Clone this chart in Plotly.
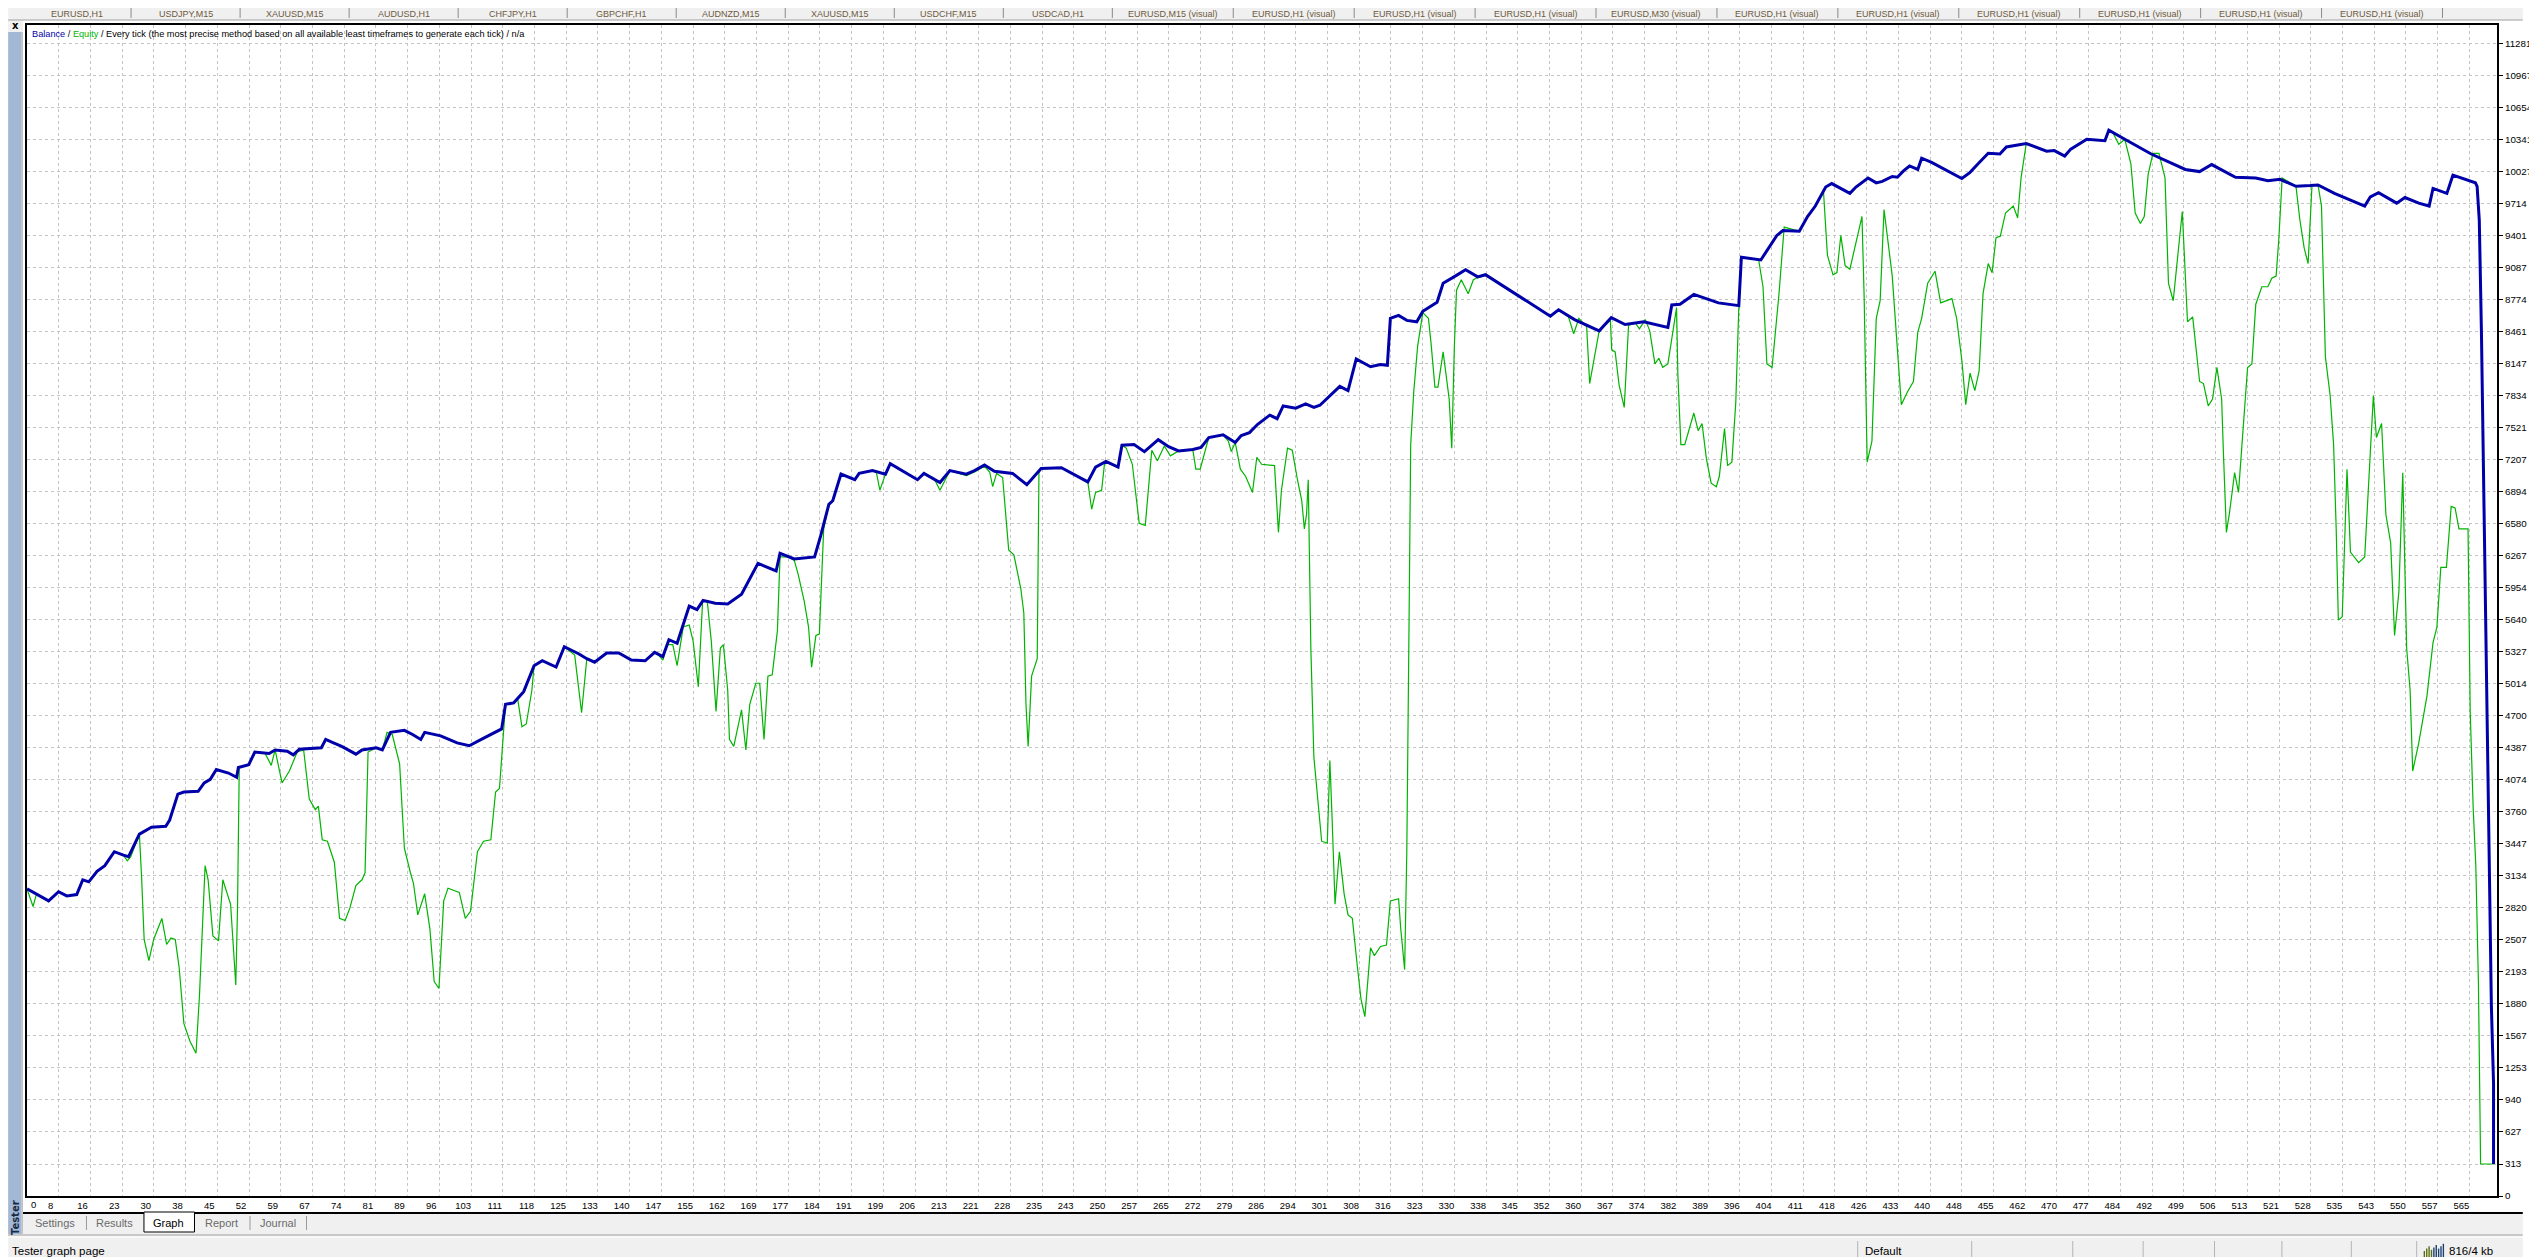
import plotly.graph_objects as go

# ---- data ----
# balance: trade index / account balance
bal_idx = [0, 2.2, 5, 7.3, 9.2, 11.5, 12.9, 14.3, 16.2, 18, 20.2, 22.3, 23.5, 26, 28.8, 32.1, 33, 34.9, 36.3,
           39.6, 41, 42.4, 43.8, 46.6, 48.5, 48.9, 51.3, 52.7, 56, 57.4, 60.2, 61.6, 63, 68.1, 69.1, 70.9,
           72.8, 76.1, 77.5, 80.8, 82.2, 84.1, 87.3, 89.2, 91.1, 92, 95.7, 99.5, 102.3, 105.1, 107.5, 109.8,
           110.7, 112.6, 114.9, 117.3, 119.2, 122.4, 124.3, 127.6, 129.5, 131.3, 134.1, 136.9, 139.8, 143,
           145.2, 147.1, 148.5, 150.4, 153.2, 155, 156.4, 159.2, 162.1, 165.3, 169.1, 173.3, 174.2, 177.5,
           182.2, 183.6, 185.5, 186.4, 188.3, 191.5, 192.5, 195.6, 198.6, 199.7, 206, 207.5, 211.2, 213.5,
           217.3, 219.2, 221.5, 223.8, 228, 231.3, 234.6, 239.3, 245.4, 247.2, 249.6, 252.4, 253.3, 256.1,
           258.5, 261.7, 264.1, 266.4, 269.7, 271.6, 273.4, 276.7, 279.5, 280.9, 282.8, 284.7, 287.5, 289.2,
           290.6, 293.5, 295.8, 297.7, 299.1, 300.9, 302.3, 303.7, 305.6, 307.5, 310.8, 313.1, 314.7, 315.4,
           317.3, 319.2, 321.5, 322.9, 326.2, 327.6, 330.4, 332.8, 335.6, 337.4, 352.4, 354.3, 358, 363.7,
           366.5, 369.7, 374, 379.6, 380.5, 382.4, 385.6, 391.3, 396, 396.6, 401.1, 404.8, 406.2, 410, 411.9,
           413.7, 416.1, 417.5, 421.7, 423.1, 425.9, 427.8, 429.2, 431.5, 432.7, 434.1, 435.5, 437.4, 438.3,
           440.6, 447.6, 449.5, 451.3, 453.7, 456.4, 457.9, 462.5, 467.2, 469, 471.4, 472.8, 476.5, 480.7,
           481.6, 485.3, 491.4, 499.3, 502.6, 505.4, 510.9, 515.6, 518.4, 521.2, 524.9, 528.2, 530, 533.8,
           540.8, 542.1, 544, 548.2, 550.1, 553.3, 555.7, 556.6, 559.8, 561.2, 566.4, 566.8, 567.3, 567.8,
           568.2, 568.7, 569.2, 569.6, 570.1, 570.6, 570.6]
bal_val = [3006, 2958, 2889, 2978, 2937, 2951, 3095, 3075, 3178, 3233, 3370, 3336, 3322, 3542, 3610, 3618, 3680,
           3934, 3954, 3961, 4043, 4078, 4174, 4140, 4098, 4194, 4222, 4346, 4332, 4366, 4353, 4318, 4373, 4387,
           4469, 4435, 4401, 4325, 4366, 4387, 4366, 4538, 4558, 4517, 4469, 4538, 4504, 4435, 4407, 4469, 4524,
           4572, 4813, 4827, 4937, 5191, 5239, 5177, 5376, 5308, 5259, 5225, 5315, 5315, 5246, 5239, 5321, 5280,
           5445, 5410, 5774, 5740, 5830, 5802, 5795, 5891, 6192, 6118, 6290, 6235, 6255, 6462, 6770, 6805, 7066,
           7011, 7073, 7100, 7066, 7169, 7011, 7073, 6984, 7100, 7066, 7100, 7155, 7094, 7073, 6963, 7121, 7128,
           6990, 7135, 7190, 7135, 7348, 7355, 7286, 7403, 7334, 7293, 7307, 7327, 7424, 7451, 7376, 7444, 7472,
           7554, 7643, 7609, 7733, 7712, 7753, 7719, 7740, 7815, 7870, 7925, 7884, 8193, 8117, 8138, 8131, 8591,
           8619, 8571, 8557, 8660, 8749, 8935, 9004, 9066, 8997, 9018, 8612, 8674, 8578, 8468, 8598, 8530, 8557,
           8502, 8722, 8729, 8825, 8742, 8715, 9189, 9162, 9402, 9450, 9443, 9587, 9690, 9876, 9910, 9814, 9876,
           9965, 9917, 9931, 9979, 9972, 10034, 10082, 10048, 10158, 10117, 9959, 10020, 10102, 10206, 10199,
           10268, 10302, 10226, 10233, 10179, 10247, 10343, 10329, 10432, 10343, 10199, 10048, 10027, 10096,
           9972, 9965, 9938, 9952, 9883, 9890, 9896, 9814, 9690, 9780, 9821, 9718, 9773, 9718, 9690, 9862, 9814,
           9992, 9917, 9883, 9553, 8454, 7286, 5843, 4813, 3439, 1859, 1103, 313]

# equity: trade index / account equity
eq_idx = [0, 1.4, 2.2, 5, 7.3, 9.2, 11.5, 12.9, 14.3, 16.2, 18, 20.2, 22.3, 23.2, 24, 26, 26.5, 27.1, 28.2, 29.3,
          31.2, 32.3, 33.3, 34.3, 35.2, 36.3, 37.7, 39.1, 39.9, 41.2, 41.9, 43, 44.3, 45.3, 47.1, 48.1, 48.3, 48.7,
          49.1, 51.3, 52.7, 55, 56.5, 57.4, 59, 60.7, 62.5, 64, 65.3, 66.7, 67.4, 68.3, 69.5, 71.1, 72.3, 73.6,
          74.7, 76.1, 77.5, 78.2, 78.9, 80.8, 82.2, 83.3, 84.5, 86.2, 87.3, 88.7, 89.4, 90.4, 92, 93.2, 94.2,
          95.3, 96.4, 97.4, 100, 101.4, 102.6, 104.2, 105.6, 107.3, 108.4, 109.3, 110.3, 110.7, 112.6, 113.5,
          114.5, 115.5, 116.8, 117.3, 119.2, 122.4, 124.3, 126.7, 128.3, 129.5, 131.3, 134.1, 136.9, 139.8,
          143, 145.2, 146.1, 147.1, 148, 149.4, 150.4, 151.8, 153.2, 154.1, 155.3, 156.3, 157.4, 158.3, 159.4,
          160.4, 161.1, 162.1, 162.5, 163.5, 165.3, 166.3, 167.2, 168.6, 169.5, 170.5, 171.4, 172.4, 173.6,
          174.2, 176.1, 177.5, 178.4, 179.8, 180.8, 181.5, 182.5, 183.3, 184.3, 185.5, 186.4, 188.3, 191.5,
          192.5, 195.6, 196.5, 197.3, 198.6, 199.7, 206, 207.5, 209.8, 211.2, 213.5, 217.3, 219.2, 221.5,
          222.7, 223.4, 224.3, 225.7, 227.1, 228.3, 229.9, 230.6, 231.1, 231.6, 232.4, 233.7, 234.1, 234.6,
          239.3, 245.4, 246.3, 247.2, 248.6, 249.3, 251, 252.4, 253.3, 254.3, 255.7, 257.3, 258.7, 260.2,
          261.5, 263.1, 264.5, 266.4, 269.7, 270.4, 271.4, 272.8, 273.4, 276.7, 277.9, 278.6, 279.5, 280.7,
          281.9, 283.5, 284.5, 285.6, 287.9, 288.6, 289.5, 290.2, 291.6, 292.7, 293.9, 294.9, 295.5, 296,
          296.4, 297, 297.7, 298.6, 299.5, 300.8, 301.4, 301.9, 302.6, 303.6, 304.7, 305.6, 306.6, 307.7,
          308.6, 309.5, 310.8, 311.7, 313.1, 314.5, 315.4, 317.3, 317.8, 318.7, 319.2, 319.7, 320.1, 320.8,
          321.7, 322.9, 324.2, 324.8, 325.7, 326.4, 327.6, 329, 329.6, 330.2, 330.7, 331.8, 333.4, 334.6,
          335.6, 337.4, 352.4, 354.3, 356.6, 357.8, 359, 360.8, 361.5, 363.7, 366.3, 366.6, 367.4, 368.3,
          369.5, 370.5, 372.1, 373, 374.4, 375.4, 376.6, 377.5, 378.4, 379.6, 381.6, 381.9, 382.6, 383.5,
          385.6, 386.6, 387.5, 388.5, 389.6, 390.8, 391.5, 392.7, 393.4, 394.4, 395.3, 396, 396.6, 400.6,
          401.6, 402.5, 403.7, 405.3, 406.5, 410, 411.9, 413.7, 415.6, 416.5, 417.8, 418.7, 419.6, 420.6,
          421.7, 424.5, 425, 425.7, 426.8, 427.8, 428.7, 429.6, 431.5, 432.7, 433.6, 435, 436.4, 437.4, 438.3,
          439.7, 441.4, 442.7, 445.3, 446.4, 447.6, 448.5, 449.5, 450.6, 451.6, 452.5, 453.7, 454.6, 455.5,
          456.5, 457.7, 459.5, 460.5, 461.3, 462.3, 462.5, 467.2, 469, 471.4, 472.8, 476.5, 480.7, 481.6,
          482.5, 483.9, 485.3, 486.7, 487.7, 488.9, 489.8, 490.7, 491.8, 493.2, 494.6, 495.4, 496.5, 497.4,
          498.6, 499.8, 501, 502.6, 503.5, 504.6, 505.6, 506.6, 507.7, 508.1, 508.8, 509.5, 510.7, 511.6,
          512.3, 513.7, 514.7, 515.6, 517, 518.4, 519.3, 520.3, 520.9, 521.7, 524.9, 525.8, 526.8, 527.7,
          528.6, 530, 530.8, 531.4, 531.7, 532.8, 533.6, 534.2, 534.7, 535.6, 536.1, 536.7, 537.5, 539.4,
          540.8, 542, 542.8, 543.5, 544.7, 545.7, 546.8, 547.7, 548.7, 549.6, 550.5, 551.3, 551.9, 553.3,
          555.2, 556.6, 557.5, 558.4, 559.7, 560.8, 561.7, 562.6, 564.7, 565.2, 565.9, 566.5, 567.1, 567.5,
          567.6, 570.6]
eq_val = [3006, 2834, 2958, 2889, 2978, 2937, 2951, 3095, 3075, 3178, 3233, 3370, 3336, 3281, 3322, 3542, 3130,
          2511, 2305, 2511, 2717, 2462, 2525, 2511, 2236, 1687, 1515, 1398, 1962, 3233, 3095, 2546, 2497, 3095,
          2855, 2099, 2065, 2820, 4194, 4222, 4346, 4340, 4215, 4366, 4043, 4160, 4346, 4366, 3885, 3782, 3816,
          3487, 3473, 3267, 2717, 2697, 2820, 3040, 3095, 3164, 4346, 4387, 4366, 4538, 4517, 4229, 3404, 3164,
          3061, 2752, 2958, 2614, 2099, 2031, 2889, 3013, 2971, 2717, 2786, 3370, 3473, 3487, 3954, 3988, 4593,
          4813, 4827, 4869, 4593, 4620, 4950, 5191, 5239, 5177, 5376, 5294, 4730, 5259, 5225, 5315, 5315, 5246,
          5239, 5321, 5294, 5246, 5397, 5397, 5191, 5569, 5589, 5431, 4984, 5830, 5809, 5431, 4744, 5363, 5397,
          4950, 4469, 4401, 4758, 4366, 4813, 5019, 5019, 4469, 5088, 5102, 5534, 6256, 6256, 6221, 6084, 5823,
          5569, 5177, 5486, 5500, 6530, 6771, 6805, 7066, 7011, 7073, 7100, 7080, 6908, 7066, 7169, 7011, 7073,
          7025, 6908, 7100, 7052, 7087, 7142, 7087, 6943, 7073, 7032, 6324, 6276, 5946, 5706, 4813, 4401, 5088,
          5259, 7080, 7121, 7128, 6990, 6722, 6887, 6908, 7183, 7162, 7135, 7348, 7320, 7162, 6585, 6564, 7300,
          7197, 7341, 7245, 7293, 7300, 7114, 7114, 7334, 7424, 7451, 7389, 7286, 7376, 7114, 7045, 6887, 7231,
          7162, 7149, 7149, 6496, 6908, 7320, 7300, 7011, 6805, 6530, 6668, 7011, 5362, 4298, 3851, 3473, 3453,
          4263, 3714, 2855, 3370, 2958, 2752, 2718, 2271, 1927, 1756, 2429, 2353, 2443, 2456, 2889, 2910, 2614,
          2216, 3370, 5534, 7355, 7870, 8317, 8646, 8591, 8351, 7918, 7918, 8262, 7801, 7320, 8317, 8866, 8969,
          8832, 8969, 8990, 9011, 8612, 8674, 8605, 8440, 8591, 8509, 7952, 8468, 8571, 8282, 8262, 7939, 7719,
          8523, 8543, 8488, 8578, 8468, 8145, 8200, 8111, 8145, 8694, 8042, 7355, 7355, 7664, 7492, 7561, 7217,
          6977, 6943, 7045, 7513, 7149, 7183, 7767, 8694, 9189, 9162, 8900, 8145, 8111, 8832, 9484, 9443, 9587,
          9690, 9828, 9210, 9017, 9038, 9402, 9107, 9072, 9588, 8797, 7183, 7389, 8591, 8763, 9656, 9004, 8282,
          7746, 7870, 7973, 8454, 8591, 8935, 9052, 8742, 8784, 8591, 8179, 7746, 8055, 7883, 8076, 8832, 9127,
          9038, 9381, 9395, 9622, 9690, 9574, 9965, 10240, 10302, 10226, 10233, 10179, 10247, 10343, 10329,
          10432, 10412, 10295, 10343, 10102, 9622, 9519, 9588, 10000, 10206, 10206, 9965, 8935, 8763, 9141,
          9636, 8557, 8605, 7973, 7952, 7733, 7801, 8110, 7801, 7286, 6496, 6681, 7080, 6887, 7286, 8110, 8145,
          8729, 8900, 8900, 8983, 9004, 9347, 9965, 9883, 9553, 9278, 9127, 9896, 9896, 9690, 8797, 8214, 7835,
          7355, 6530, 5637, 5671, 6324, 7114, 6303, 6200, 6256, 7286, 7835, 7424, 7561, 6668, 6393, 5486, 5912,
          7080, 5362, 4950, 4160, 4435, 4895, 5417, 5569, 6153, 6153, 6750, 6736, 6530, 6530, 4744, 3782, 3233,
          2099, 691, 313, 313]

x_labels = ["0", "8", "16", "23", "30", "38", "45", "52", "59", "67", "74", "81", "89", "96", "103", "111",
            "118", "125", "133", "140", "147", "155", "162", "169", "177", "184", "191", "199", "206", "213",
            "221", "228", "235", "243", "250", "257", "265", "272", "279", "286", "294", "301", "308", "316",
            "323", "330", "338", "345", "352", "360", "367", "374", "382", "389", "396", "404", "411", "418",
            "426", "433", "440", "448", "455", "462", "470", "477", "484", "492", "499", "506", "513", "521",
            "528", "535", "543", "550", "557", "565"]
y_ticks = [0, 313, 627, 940, 1253, 1567, 1880, 2193, 2507, 2820, 3134, 3447, 3760, 4074, 4387, 4700, 5014,
           5327, 5640, 5954, 6267, 6580, 6894, 7207, 7521, 7834, 8147, 8461, 8774, 9087, 9401, 9714, 10027,
           10341, 10654, 10967, 11281]

top_tabs = ["EURUSD,H1", "USDJPY,M15", "XAUUSD,M15", "AUDUSD,H1", "CHFJPY,H1", "GBPCHF,H1", "AUDNZD,M15",
            "XAUUSD,M15", "USDCHF,M15", "USDCAD,H1", "EURUSD,M15 (visual)", "EURUSD,H1 (visual)",
            "EURUSD,H1 (visual)", "EURUSD,H1 (visual)", "EURUSD,M30 (visual)", "EURUSD,H1 (visual)",
            "EURUSD,H1 (visual)", "EURUSD,H1 (visual)", "EURUSD,H1 (visual)", "EURUSD,H1 (visual)",
            "EURUSD,H1 (visual)"]
bottom_tabs = ["Settings", "Results", "Graph", "Report", "Journal"]

# ---- page geometry (pixels) ----
W, H = 2537, 1257
L, R, T, B = 19, 2511, 17, 1188
SANS = "Liberation Sans, Arial, sans-serif"


def px(x):
    return (x - L) / (R - L)


def py(y):
    return (B - y) / (B - T)


fig = go.Figure()

fig.add_trace(go.Scatter(x=eq_idx, y=eq_val, mode="lines", name="Equity",
                         line=dict(color="#00b400", width=1.2)))
fig.add_trace(go.Scatter(x=bal_idx, y=bal_val, mode="lines", name="Balance",
                         line=dict(color="#0000aa", width=3)))

n_lab = len(x_labels)
x_tickvals = [k * 565 / (n_lab - 1) for k in range(n_lab)]
# the first label sits right of the frame, it is drawn as an annotation below
x_ticktext = [""] + x_labels[1:]

fig.update_xaxes(
    range=[0, 571.4], tickvals=x_tickvals, ticktext=x_ticktext,
    showgrid=True, gridcolor="#c4c4c4", griddash="3px,3px", gridwidth=1,
    showline=True, linecolor="black", linewidth=2, mirror=True, zeroline=False,
    ticks="", tickfont=dict(family=SANS, size=9.5, color="black"), ticklabelshift=-8,
)
fig.update_yaxes(
    range=[0, 11462], tickvals=y_ticks, ticktext=[str(v) for v in y_ticks], side="right",
    showgrid=True, gridcolor="#c4c4c4", griddash="3px,3px", gridwidth=1,
    showline=True, linecolor="black", linewidth=2, mirror=True, zeroline=False,
    ticks="outside", ticklen=4, tickcolor="black",
    tickfont=dict(family=SANS, size=9.8, color="black"),
)

shapes = []
# window chrome
shapes.append(dict(type="rect", xref="paper", yref="paper", x0=px(0), x1=px(W), y0=py(0), y1=py(12),
                   fillcolor="#f0f0f0", line_width=0, layer="below"))
shapes.append(dict(type="line", xref="paper", yref="paper", x0=px(0), x1=px(W), y0=py(12), y1=py(12),
                   line=dict(color="#a0a0a0", width=1)))
shapes.append(dict(type="rect", xref="paper", yref="paper", x0=px(0), x1=px(15), y0=py(12), y1=py(1228),
                   fillcolor="#f0f0f0", line_width=0, layer="below"))
shapes.append(dict(type="rect", xref="paper", yref="paper", x0=px(0), x1=px(13), y0=py(24), y1=py(1226),
                   fillcolor="#a2b8d6", line_width=0))
shapes.append(dict(type="line", xref="paper", yref="paper", x0=px(14), x1=px(14), y0=py(24), y1=py(1226),
                   line=dict(color="#9a9a9a", width=1)))
shapes.append(dict(type="rect", xref="paper", yref="paper", x0=px(15), x1=px(W), y0=py(1205), y1=py(1227),
                   fillcolor="#f0f0f0", line_width=0))
shapes.append(dict(type="line", xref="paper", yref="paper", x0=px(15), x1=px(W), y0=py(1205), y1=py(1205),
                   line=dict(color="black", width=2)))
# selected "Graph" tab
shapes.append(dict(type="rect", xref="paper", yref="paper", x0=px(137), x1=px(188), y0=py(1204), y1=py(1224),
                   fillcolor="white", line=dict(color="black", width=1)))
# status bar
shapes.append(dict(type="rect", xref="paper", yref="paper", x0=px(0), x1=px(W), y0=py(1227), y1=py(1254),
                   fillcolor="#f0f0f0", line_width=0))
shapes.append(dict(type="line", xref="paper", yref="paper", x0=px(0), x1=px(W), y0=py(1227), y1=py(1227),
                   line=dict(color="#a0a0a0", width=1)))
shapes.append(dict(type="line", xref="paper", yref="paper", x0=px(0), x1=px(W), y0=py(1229), y1=py(1229),
                   line=dict(color="white", width=1)))
shapes.append(dict(type="rect", xref="paper", yref="paper", x0=px(0), x1=px(W), y0=py(1254), y1=py(H),
                   fillcolor="#1b2633", line_width=0))
for sx in [1866, 1981, 2083, 2154, 2226, 2294, 2364, 2430]:
    shapes.append(dict(type="line", xref="paper", yref="paper", x0=px(sx), x1=px(sx), y0=py(1233), y1=py(1252),
                       line=dict(color="#b4b4b4", width=1)))
# traffic indicator bars
for i in range(9):
    bx = 2437 + i * 2.4
    shapes.append(dict(type="rect", xref="paper", yref="paper", x0=px(bx), x1=px(bx + 1.4),
                       y0=py(1249), y1=py(1249 - (6 + (i % 3) * 2 + i * 0.4)),
                       fillcolor="#5a6e10" if i < 4 else "#1b3f6e", line_width=0))
# tab separators at the bottom
for sx in [79, 244, 301]:
    shapes.append(dict(type="line", xref="paper", yref="paper", x0=px(sx), x1=px(sx), y0=py(1208), y1=py(1222),
                       line=dict(color="#9a9a9a", width=1)))

annotations = []
legend_txt = ('<span style="color:#0000aa">Balance</span> / <span style="color:#00b400">Equity</span>'
              ' / Every tick (the most precise method based on all available least timeframes to generate'
              ' each tick) / n/a')
annotations.append(dict(xref="paper", yref="paper", x=px(22), y=py(26), xanchor="left", yanchor="middle",
                        text=legend_txt, showarrow=False, font=dict(family=SANS, size=9.2, color="black")))
annotations.append(dict(xref="paper", yref="paper", x=px(21), y=py(1196), xanchor="left", yanchor="middle",
                        text=x_labels[0], showarrow=False, font=dict(family=SANS, size=9.5, color="black")))
annotations.append(dict(xref="paper", yref="paper", x=px(7), y=py(18), xanchor="center", yanchor="middle",
                        text="<b>x</b>", showarrow=False, font=dict(family="DejaVu Sans", size=10, color="black")))
annotations.append(dict(xref="paper", yref="paper", x=px(7), y=py(1210), xanchor="center", yanchor="middle",
                        text="<b>Tester</b>", textangle=-90, showarrow=False,
                        font=dict(family="DejaVu Sans", size=10, color="#1a2a44")))
tab_x = [47, 107, 162, 215, 272]
for name, tx in zip(bottom_tabs, tab_x):
    annotations.append(dict(xref="paper", yref="paper", x=px(tx), y=py(1215), xanchor="center",
                            yanchor="middle", text=name, showarrow=False,
                            font=dict(family=SANS, size=11, color="black" if name == "Graph" else "#6a6a6a")))
annotations.append(dict(xref="paper", yref="paper", x=px(2), y=py(1243), xanchor="left", yanchor="middle",
                        text="Tester graph page", showarrow=False, font=dict(family=SANS, size=11.5, color="black")))
annotations.append(dict(xref="paper", yref="paper", x=px(1871), y=py(1243), xanchor="left", yanchor="middle",
                        text="Default", showarrow=False, font=dict(family=SANS, size=11.5, color="black")))
annotations.append(dict(xref="paper", yref="paper", x=px(2461), y=py(1243), xanchor="left", yanchor="middle",
                        text="816/4 kb", showarrow=False, font=dict(family=SANS, size=11.5, color="black")))
# window tab strip along the top edge
tx = 28
for name in top_tabs:
    wdt = 82 if "visual" not in name else 94
    annotations.append(dict(xref="paper", yref="paper", x=px(tx + wdt / 2), y=py(6), xanchor="center",
                            yanchor="middle", text=name, showarrow=False,
                            font=dict(family=SANS, size=9, color="#6e5a3c")))
    shapes.append(dict(type="line", xref="paper", yref="paper", x0=px(tx + wdt + 14), x1=px(tx + wdt + 14),
                       y0=py(0), y1=py(10), line=dict(color="#8a8a8a", width=1)))
    tx += wdt + 28

fig.update_layout(
    width=W, height=H, autosize=False,
    margin=dict(l=L, r=W - R, t=T, b=H - B),
    paper_bgcolor="white", plot_bgcolor="white",
    showlegend=False, hovermode="x unified",
    shapes=shapes, annotations=annotations,
)

fig.write_html("out.html")
